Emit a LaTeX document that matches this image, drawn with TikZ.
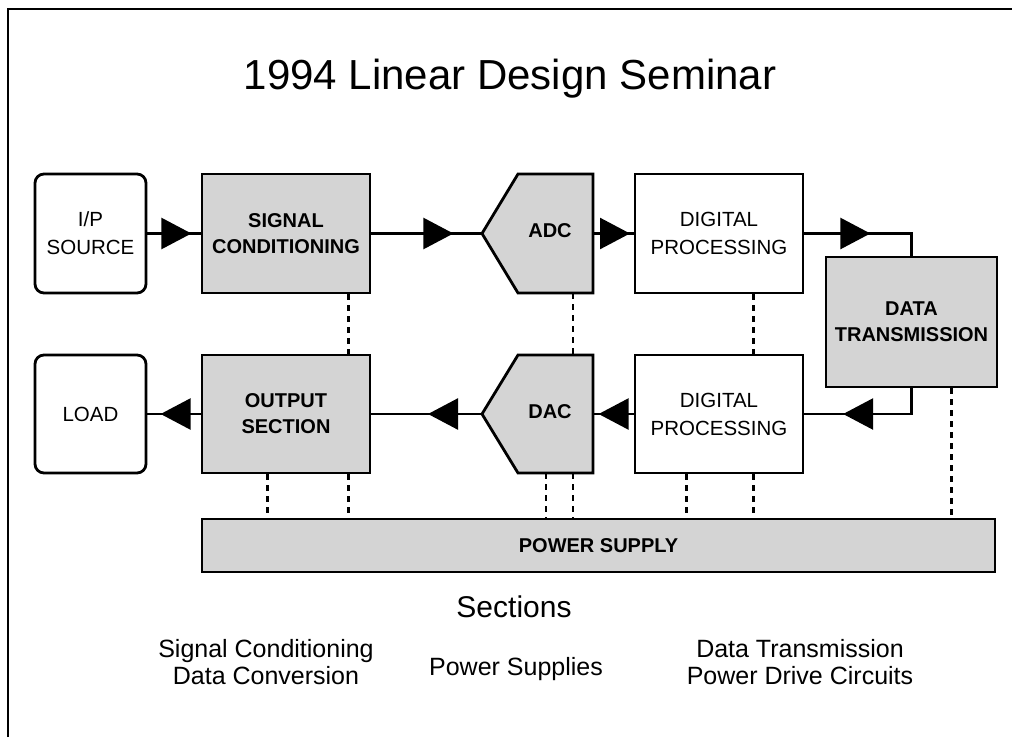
\documentclass[tikz,border=0pt]{standalone}
\usepackage{fontspec}
\setmainfont{Liberation Sans}
\usetikzlibrary{arrows.meta,decorations.markings,calc}
\definecolor{shade}{gray}{0.83}
\begin{document}
\begin{tikzpicture}[x=1pt,y=-1pt,
  box/.style={draw, line width=2.8pt, inner sep=0pt, align=center, font=\fontsize{20.5}{28}\selectfont},
  plainbox/.style={box, fill=white},
  shadedbox/.style={box, fill=shade, font=\bfseries\fontsize{20}{26}\selectfont},
  conn/.style={line width=2.5pt},
  dashln/.style={line width=2.5pt, dash pattern=on 6pt off 5pt},
  arrowat/.style={postaction={decorate}, decoration={markings, mark=at position #1 with {\arrow{Triangle[length=30pt,width=31pt]}}}},
  big/.style={font=\fontsize{25}{30}\selectfont, anchor=base},
]
\useasboundingbox (0,0) rectangle (1012,737);
% frame
\draw[line width=2pt] (8,737) -- (8,9) -- (1012,9);

% title
\node[font=\fontsize{42}{50}\selectfont, anchor=base] (title) at (510,89) {1994 Linear Design Seminar};

% top row
\node[plainbox, rounded corners=9pt, minimum width=111pt, minimum height=119pt] (ip) at (90.5,233.5) {I/P\\SOURCE};
\node[shadedbox, minimum width=168pt, minimum height=119pt] (sc) at (286,233.5) {SIGNAL\\CONDITIONING};
\draw[line width=2.8pt, fill=shade, line join=miter]
  (482,233.5) coordinate (adcL) -- (518,174) -- (593,174) coordinate (adcTR)
  -- (593,293) coordinate (adcBR) -- (518,293) -- cycle;
\coordinate (adcR) at (593,233.5);
\node[font=\bfseries\fontsize{20}{26}\selectfont] (adc) at (550,231) {ADC};
\node[plainbox, minimum width=168pt, minimum height=119pt] (dp1) at (719,233.5) {DIGITAL\\PROCESSING};

% data transmission
\node[shadedbox, minimum width=171pt, minimum height=130pt] (dt) at (911.5,322) {DATA\\TRANSMISSION};

% bottom row
\node[plainbox, rounded corners=9pt, minimum width=111pt, minimum height=118pt] (load) at (90.5,414) {LOAD};
\node[shadedbox, minimum width=168pt, minimum height=118pt] (os) at (286,414) {OUTPUT\\SECTION};
\draw[line width=2.8pt, fill=shade, line join=miter]
  (482,414) coordinate (dacL) -- (518,355) -- (593,355) coordinate (dacTR)
  -- (593,473) coordinate (dacBR) -- (518,473) -- cycle;
\coordinate (dacR) at (593,414);
\node[font=\bfseries\fontsize{20}{26}\selectfont] (dac) at (550,412) {DAC};
\node[plainbox, minimum width=168pt, minimum height=118pt] (dp2) at (719,414) {DIGITAL\\PROCESSING};

% power supply
\node[shadedbox, minimum width=793pt, minimum height=53pt] (ps) at (598.5,545.5) {POWER SUPPLY};

% signal connectors
\draw[conn, arrowat=44pt] (ip.east) -- (sc.west);
\draw[conn, arrowat=82pt] (sc.east) -- (adcL);
\draw[conn, arrowat=37pt] (adcR) -- (dp1.west);
\draw[conn, arrowat=66pt] (dp1.east) -| (dt.north);
\draw[conn, arrowat=94pt] (dt.south) |- (dp2.east);
\draw[conn, arrowat=35pt] (dp2.west) -- (dacR);
\draw[conn, arrowat=54pt] (dacL) -- (os.east);
\draw[conn, arrowat=40pt] (os.west) -- (load.east);

% dotted links between rows
\draw[dashln] ([xshift=-23pt]sc.south east) -- ([xshift=-23pt]os.north east);
\draw[dashln] ([xshift=-20pt]adcBR) -- ([xshift=-20pt]dacTR);
\draw[dashln] ([xshift=-51pt]dp1.south east) -- ([xshift=-51pt]dp2.north east);

% dotted links to power supply
\coordinate (p1) at ([xshift=67pt]os.south west);
\coordinate (p2) at ([xshift=-23pt]os.south east);
\coordinate (p3) at ([xshift=-47pt]dacBR);
\coordinate (p4) at ([xshift=-20pt]dacBR);
\coordinate (p5) at ([xshift=53pt]dp2.south west);
\coordinate (p6) at ([xshift=-51pt]dp2.south east);
\coordinate (p7) at ([xshift=-47pt]dt.south east);
\foreach \p in {p1,p2,p3,p4,p5,p6,p7}
  \draw[dashln] (\p) -- (\p |- ps.north);

% bottom texts
\node[font=\fontsize{30}{36}\selectfont, anchor=base] (sections) at (514,617) {Sections};
\node[big] (l1) at (266,657) {Signal Conditioning};
\node[big] (l2) at (266,684) {Data Conversion};
\node[big] (m1) at (516,675) {Power Supplies};
\node[big] (r1) at (800,657) {Data Transmission};
\node[big] (r2) at (800,684) {Power Drive Circuits};
\end{tikzpicture}
\end{document}
